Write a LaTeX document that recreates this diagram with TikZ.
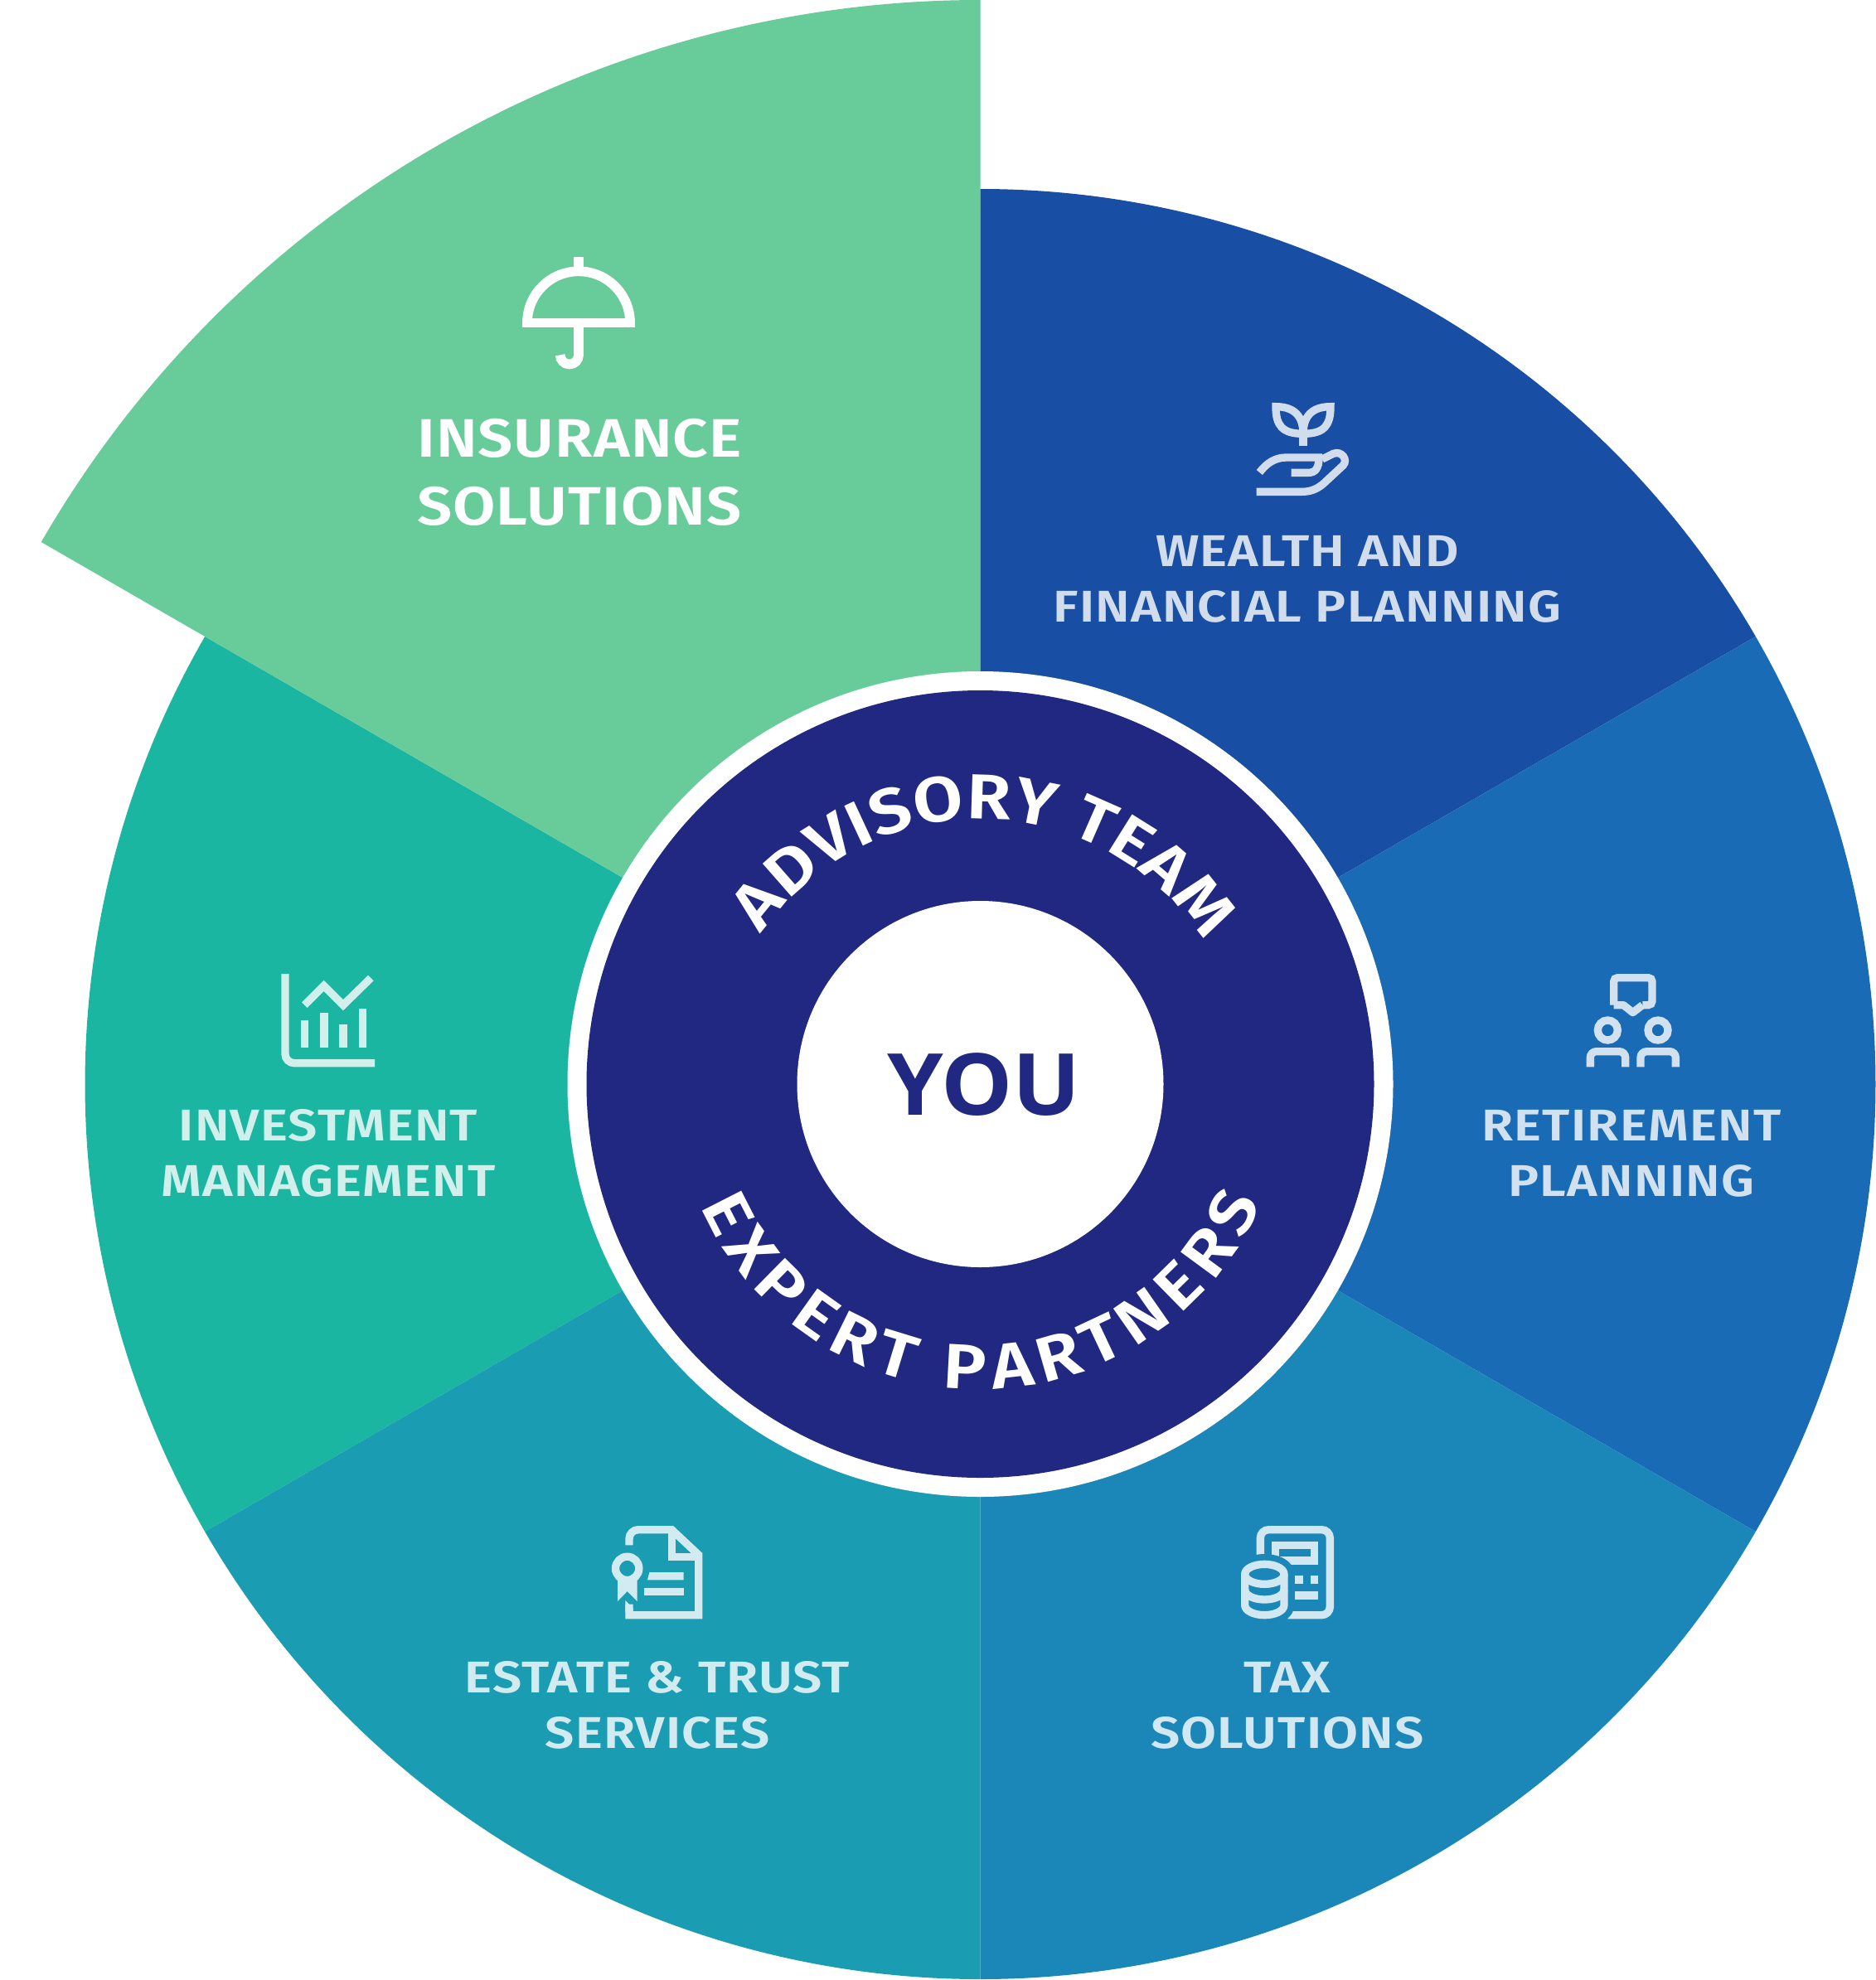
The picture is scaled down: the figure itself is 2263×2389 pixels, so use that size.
\documentclass[tikz,border=0pt]{standalone}
\usepackage{fontspec}
\usetikzlibrary{decorations.text}
\setmainfont{Fira Sans}
\newfontfamily\labfont{Fira Sans SemiBold}[FakeStretch=1.14,LetterSpace=1.6]
\newfontfamily\smallfont{Fira Sans SemiBold}[FakeStretch=1.16,LetterSpace=2.2]
\newfontfamily\ringfont{Fira Sans SemiBold}[FakeStretch=1.14]
\newfontfamily\youfont{Open Sans}[FakeStretch=1.05]
\definecolor{cgreen}{HTML}{68CB9A}
\definecolor{cwealth}{HTML}{184FA5}
\definecolor{cretire}{HTML}{1A6BB5}
\definecolor{ctax}{HTML}{1A87B8}
\definecolor{cestate}{HTML}{1A9CB2}
\definecolor{cinvest}{HTML}{1BB6A2}
\definecolor{cnavy}{HTML}{202882}
\definecolor{twealth}{HTML}{D1DCED}
\definecolor{tretire}{HTML}{D1E1F0}
\definecolor{ttax}{HTML}{D1E7F1}
\definecolor{testate}{HTML}{D1EBF0}
\definecolor{tinvest}{HTML}{D1F0EC}
\tikzset{
  biglabel/.style={font=\labfont\fontsize{19.6}{24.6}\selectfont,text=white,align=center,inner sep=0pt,anchor=base},
  smalllabel/.style={font=\smallfont\fontsize{16.1}{20.1}\selectfont,align=center,inner sep=0pt,anchor=base},
  icon/.style={line width=2.8pt,line cap=butt,line join=miter}
}
\begin{document}
\begin{tikzpicture}[x=0.3pt,y=0.3pt]
\useasboundingbox (0,0) rectangle (2263,-2389);
\coordinate (c) at (1182.5,-1308);
% sectors
\fill[cinvest] (c) -- ++(150:1080) arc[start angle=150,end angle=210,radius=1080] -- cycle;
\fill[cgreen] (c) -- ++(90:1308) arc[start angle=90,end angle=150,radius=1308] -- cycle;
\fill[cwealth] (c) -- ++(30:1080) arc[start angle=30,end angle=90,radius=1080] -- cycle;
\fill[cretire] (c) -- ++(-30:1080) arc[start angle=-30,end angle=30,radius=1080] -- cycle;
\fill[ctax] (c) -- ++(-90:1080) arc[start angle=-90,end angle=-30,radius=1080] -- cycle;
\fill[cestate] (c) -- ++(-150:1080) arc[start angle=-150,end angle=-90,radius=1080] -- cycle;
% centre
\fill[white] (c) circle[radius=498];
\fill[cnavy] (c) circle[radius=475];
\fill[white] (c) circle[radius=221];
\node[font=\youfont\bfseries\fontsize{31}{31}\selectfont,text=cnavy,inner sep=0pt,anchor=base] (you) at (1187,-1345) {YOU};
\path[decorate,decoration={text along path,text align=fit to path,
  text={|\ringfont\fontsize{23}{26}\selectfont\color{white}|ADVISORY TEAM}}]
  ([shift={(145.5:320)}]c) arc[start angle=145.5,end angle=34.5,radius=320];
\path[decorate,decoration={text along path,text align=fit to path,
  text={|\ringfont\fontsize{23}{26}\selectfont\color{white}|EXPERT PARTNERS}}]
  ([shift={(203.5:368)}]c) arc[start angle=203.5,end angle=337,radius=368];
% labels
\node[biglabel] (insurance) at (699,-633) {INSURANCE\\SOLUTIONS};
\node[smalllabel,text=twealth] (wealth) at (1577,-750) {WEALTH AND\\FINANCIAL PLANNING};
\node[smalllabel,text=tretire] (retire) at (1968,-1443.5) {RETIREMENT\\PLANNING};
\node[smalllabel,text=tinvest] (invest) at (396,-1443.5) {INVESTMENT\\MANAGEMENT};
\node[smalllabel,text=testate] (estate) at (793,-2109.5) {ESTATE \& TRUST\\SERVICES};
\node[smalllabel,text=ttax] (tax) at (1553,-2109.5) {TAX\\SOLUTIONS};
% umbrella
\begin{scope}[shift={(580,-280)},x=0.1pt,y=-0.1pt,white,icon,line width=3.5pt]
  \draw (168,328) arc[start angle=180,end angle=0,x radius=186,y radius=-186];
  \draw (150,328) -- (558,328);
  \draw (354,90) -- (354,130);
  \draw (354,328) -- (354,445) arc[start angle=0,end angle=-180,x radius=33.5,y radius=-33.5];
\end{scope}
% plant
\begin{scope}[shift={(1480,-460)},x=0.1pt,y=-0.1pt,twealth,icon]
  \draw (177,92) .. controls (225,92) and (276,110) .. (276,190) .. controls (200,190) and (177,160) .. (177,92) -- cycle;
  \draw (375,92) .. controls (327,92) and (276,110) .. (276,190) .. controls (352,190) and (375,160) .. (375,92) -- cycle;
  \draw (276,190) -- (276,233);
  \draw (118,330) .. controls (145,295) and (175,276) .. (215,276) -- (345,276);
  \draw (233,331) -- (295,331) .. controls (320,331) and (333,315) .. (333,276);
  \draw (345,282) -- (385,262) .. controls (415,250) and (440,285) .. (420,305) -- (350,370) .. controls (325,392) and (300,400) .. (270,400) -- (107,400);
\end{scope}
% retirement
\begin{scope}[shift={(1870,-1150)},x=0.1pt,y=-0.1pt,tretire,icon]
  \draw[rounded corners=1.4pt] (230,188) -- (230,89) -- (369,89) -- (369,188) -- (334,188);
  \draw[line join=round] (230,188) -- (265,188) -- (299,215) -- (334,188);
  \draw (208,279) circle[radius=36];
  \draw (390,279) circle[radius=36];
  \draw[rounded corners=2.2pt] (145,412) -- (145,356) -- (272,356) -- (272,412);
  \draw[rounded corners=2.2pt] (327,412) -- (327,356) -- (454,356) -- (454,412);
\end{scope}
% tax
\begin{scope}[shift={(1460,-1820)},x=0.1pt,y=-0.1pt,ttax,icon]
  \draw[rounded corners=3pt] (181,240) -- (181,77) -- (433,77) -- (433,386) -- (280,386);
  \draw (236,133) rectangle (376,189);
  \fill (306,244) rectangle (335,272);
  \fill (362,244) rectangle (391,272);
  \fill (306,300) rectangle (391,329);
  \draw[ctax,line width=7.4pt,line join=round,fill=ctax] (125,238) arc[start angle=180,end angle=0,x radius=71,y radius=-36] -- (267,350) arc[start angle=0,end angle=-180,x radius=71,y radius=-36] -- cycle;
  \draw[line join=round] (125,238) arc[start angle=180,end angle=0,x radius=71,y radius=-36] -- (267,350) arc[start angle=0,end angle=-180,x radius=71,y radius=-36] -- cycle;
  \draw (125,238) arc[start angle=180,end angle=360,x radius=71,y radius=-36];
  \draw (125,294) arc[start angle=180,end angle=360,x radius=71,y radius=-36];
\end{scope}
% estate
\begin{scope}[shift={(710,-1820)},x=0.1pt,y=-0.1pt,testate,icon]
  \draw (147,133) -- (147,110) arc[start angle=180,end angle=90,x radius=33,y radius=-33] -- (301,77) -- (398,168) -- (398,386) -- (147,386) -- (147,347);
  \draw (301,77) -- (301,175) -- (398,175);
  \fill (133,333) -- (161,360) -- (161,375) -- (133,375) -- cycle;
  \draw (140,217) circle[radius=42.5];
  \fill (105,258) -- (105,336) -- (140,300) -- (176,336) -- (176,258) -- cycle;
  \fill (213,259) -- (220,231) -- (344,231) -- (344,259) -- cycle;
  \fill (202,287) rectangle (344,315);
\end{scope}
% investment
\begin{scope}[shift={(310,-1150)},x=0.1pt,y=-0.1pt,tinvest,icon]
  \draw (102,75) -- (102,365) arc[start angle=180,end angle=270,x radius=33,y radius=-33] -- (426,398);
  \fill (158,243) rectangle (187,342);
  \fill (228,215) rectangle (257,342);
  \fill (298,258) rectangle (327,342);
  \fill (368,202) rectangle (397,342);
  \draw (172,188) -- (242,118) -- (312,188) -- (412,90);
\end{scope}
\end{tikzpicture}
\end{document}
